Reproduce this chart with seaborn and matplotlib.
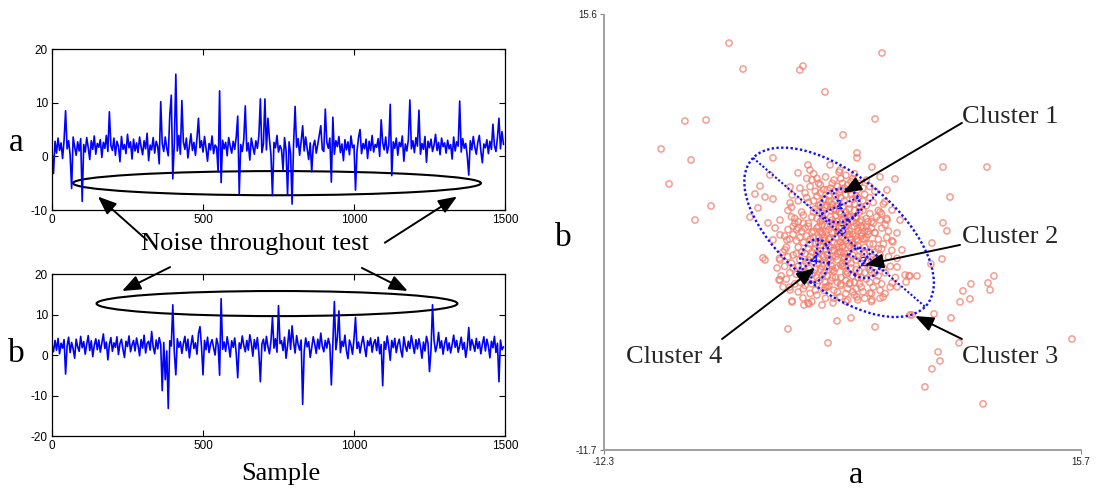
import numpy as np
import pandas as pd
import matplotlib
matplotlib.use("Agg")
import matplotlib.pyplot as plt
from matplotlib.patches import Ellipse
import seaborn as sns

# ---------------------------------------------------------------- data
sample = np.arange(0, 1500, 5)

sig_a = [
    1.2, -3.2, 2.8, 0.6, 3.4, 1.1, 2.5, -0.4, 3.0, 8.5, 1.4, 2.9, 0.3, -6.0, 3.6, 1.8, 0.2, 2.7, 1.0, 3.3,
    -8.4, 2.2, 0.8, 3.5, 1.6, -0.6, 2.9, 1.3, 3.8, 0.4, 2.4, 1.7, 3.1, -0.2, 2.6, 1.5, 3.9, 0.9, 8.3, 2.0,
    1.1, 3.4, 0.2, 2.8, 1.9, -1.0, 3.7, 1.3, 2.2, 0.5, 4.1, 1.6, 2.7, -0.5, 3.2, 1.0, 2.5, 0.7, 3.6, 1.8,
    0.3, 2.9, 1.4, 4.3, -0.8, 2.1, 1.2, 3.5, 0.6, 2.8, 1.9, -1.4, 10.2, 2.4, 0.9, 3.6, 1.5, 0.1, 7.7, 11.4,
    -4.2, 2.3, 15.3, 1.0, 3.9, 0.4, 10.4, 2.7, 1.3, 3.4, -0.3, 2.0, 4.2, 1.1, 2.6, 0.2, 3.3, 7.1, 1.6, 2.9,
    0.8, 3.7, 1.5, -0.9, 2.4, 1.2, 3.8, 0.5, 2.1, 1.7, -2.9, 12.2, -4.9, 3.0, 1.4, 2.6, 0.1, 3.5, 1.9, 0.6,
    2.8, 1.3, 3.6, 7.5, -7.0, 2.2, 0.9, 3.1, 9.4, 1.0, 2.5, -0.7, 3.4, 1.8, 0.4, 2.9, 1.5, 3.8, 10.7, 0.7,
    2.3, 10.7, 1.2, 7.1, 3.2, 0.3, -7.3, 2.6, 1.6, 3.9, 0.8, 2.0, 1.3, -2.5, 3.5, 1.1, -7.2, 2.7, 0.5, -8.9,
    2.4, 9.3, 1.7, 3.3, 0.2, 2.8, 5.7, 1.0, 3.6, 1.4, -0.6, 2.5, -2.9, 1.9, 3.0, 0.6, 2.2, 4.0, 5.7, 1.3,
    0.9, 8.8, 2.6, 1.5, 3.4, -4.8, 7.3, 0.4, 2.9, 1.8, 3.7, 0.7, 2.3, -0.8, 3.1, 1.2, 2.7, 0.3, 3.8, 1.6,
    2.1, -6.3, 1.0, 3.5, 5.0, 0.5, 2.4, 1.4, 3.2, -0.4, 2.8, 1.1, 3.9, 0.8, 2.2, 1.7, 3.3, 0.0, 6.8, 2.5,
    1.2, 3.6, 0.6, 2.0, 9.7, -3.6, 2.7, 1.5, 3.4, 0.2, 2.6, 1.8, 3.8, -0.9, 2.3, 1.0, 3.1, 10.5, 1.4, 2.9,
    0.7, 3.5, 1.9, 8.6, 0.4, 2.4, 1.3, 3.7, -1.1, 2.8, 1.6, 3.2, 0.9, 2.1, 4.1, 1.1, 2.6, 0.3, 3.4, 1.8,
    2.5, 0.6, 3.0, 1.4, 2.2, -0.5, 3.6, 1.0, 2.7, 1.9, 10.3, 0.8, 3.3, 1.5, 2.4, 0.1, -3.5, 2.9, 1.2, 3.7,
    1.7, 0.4, 2.6, 3.9, 1.0, -1.2, 2.3, 1.6, 3.1, 0.5, 2.8, 1.3, 6.0, 2.0, 0.9, 3.5, 7.1, 1.4, 4.6, 2.2,
]

sig_b = [
    2.5, 0.8, 3.6, 1.2, 4.1, 0.3, 2.9, 1.7, 3.8, -4.7, 2.2, 4.4, 0.6, 3.1, 1.5, -0.8, 3.9, 2.0, 0.9, 4.6,
    1.8, 3.3, 0.2, 2.7, 4.8, 1.1, 3.5, -0.4, 2.4, 4.0, 1.3, 3.7, 0.7, 2.9, 5.2, 1.6, 3.2, -1.2, 2.6, 4.3,
    0.9, 3.0, 1.9, 4.5, 0.1, 2.8, 3.9, 1.4, -0.6, 3.4, 2.1, 4.7, 0.8, 2.5, 3.6, 1.0, 4.2, 2.3, -0.2, 3.8,
    1.7, 4.9, 0.5, 2.9, 3.4, 1.2, 5.8, 2.0, 0.3, 3.7, 1.5, 4.3, 2.6, -8.8, 3.1, -6.1, 1.0, -13.2, 3.5, 2.2,
    12.4, 0.7, -4.9, 4.0, 1.9, 3.3, 0.4, 2.8, 4.6, 1.1, 3.9, -0.7, 2.4, 4.8, 1.6, 3.0, 0.2, 5.3, 7.0, 2.1,
    -4.9, 3.6, 1.3, 4.4, 0.6, 2.7, 3.8, 1.8, 0.0, 4.1, 2.5, -5.0, 13.9, 1.4, 3.2, 0.9, 4.5, 2.2, -0.5, 3.5,
    1.9, 4.2, 0.4, -5.6, 3.0, 1.6, 4.7, 2.4, 0.8, 3.6, 1.2, 5.0, 2.9, -0.3, 3.8, 1.5, 4.3, 0.6, -6.6, 2.7,
    3.9, 1.0, 4.6, 2.1, 0.3, 3.4, 9.3, 1.7, 4.0, 0.7, 12.2, 2.8, 3.5, 1.1, 4.4, -0.8, 2.3, 6.2, 1.4, 7.2,
    3.1, 0.5, 4.8, 2.6, 1.2, 3.7, -12.2, 0.9, 4.2, 2.0, 3.3, -0.6, 1.8, 4.5, 2.7, 0.4, 3.9, 1.5, 5.4, 2.2,
    0.8, 3.6, 1.7, 4.1, 2.5, -7.4, 3.0, 13.2, 1.3, 4.3, 10.9, 0.6, 3.4, 2.1, 4.9, 1.0, -0.9, 3.7, 2.4, 0.2,
    4.0, 9.3, 1.6, 3.2, 0.5, 2.8, 4.6, 1.9, -0.4, 3.5, 2.3, 4.2, 0.7, 2.9, 3.8, 1.1, 4.4, 0.3, 2.6, -7.6,
    3.3, 1.4, 4.7, 2.0, -1.3, 3.6, 1.8, 4.1, 0.6, 2.7, 3.9, 1.2, -0.5, 4.5, 2.2, 0.9, 3.4, 1.6, 4.8, 2.5,
    0.4, 3.8, 1.5, 4.0, 2.1, -0.8, 3.2, 1.0, 4.6, 2.9, -4.1, 1.3, 12.4, 3.7, 0.8, 2.4, 5.6, 1.7, 3.5, 0.2,
    2.8, 4.3, 1.1, 3.0, 0.5, 2.6, 4.9, 1.9, 3.6, 0.7, 2.3, 4.4, 1.4, 3.1, -0.6, 2.0, 6.8, 1.2, 3.8, 2.5,
    0.9, 4.1, 1.6, 3.3, 0.3, 2.7, 4.5, 1.0, 3.9, 2.2, -0.7, 3.4, 1.8, 4.6, 0.6, 2.9, -6.6, 3.7, 1.3, 2.0,
]

# (a, b) feature pairs: isolated points, points in the broad cluster, dense core
far_pts = [
    (-4.96, 13.78), (4.02, 13.16), (-4.14, 12.16), (-0.62, 12.34), (-0.80, 12.09), (0.67, 10.72),
    (-7.55, 8.90), (-6.31, 8.96), (3.61, 9.03), (1.73, 8.03), (-8.95, 7.15), (-7.19, 6.46),
    (-8.48, 4.96), (-6.02, 3.58), (-6.96, 2.70), (7.60, 6.02), (10.18, 6.02), (8.01, 4.14),
    (7.60, 2.52), (7.83, 2.02), (6.95, 1.26), (6.89, -0.05), (7.54, 0.26), (5.60, -0.80),
    (6.07, -0.80), (5.43, -1.18), (10.59, -0.80), (9.24, -1.30), (10.24, -1.24), (8.77, -1.74),
    (10.36, -1.68), (8.60, -2.43), (9.18, -2.24), (7.07, -3.18), (8.07, -3.43), (5.78, -3.24),
    (8.54, -4.99), (15.17, -4.75), (7.31, -5.56), (7.42, -6.12), (6.95, -6.62), (6.54, -7.75),
    (9.95, -8.81), (-2.85, 0.20), (-2.03, -1.05), (-1.50, -4.12), (-1.26, -2.37), (-0.56, -2.62),
    (-0.27, -2.55), (0.85, -4.99), (1.38, -3.62), (2.20, -3.43), (3.61, -3.99),
]

ring_pts = [
    (-2.38, 6.59), (-3.14, 4.83), (-3.44, 4.33), (-3.73, 2.89), (-3.26, 3.46), (-2.85, 4.14),
    (-2.38, 4.02), (-2.56, 5.52), (-1.97, 2.70), (-2.26, 2.20), (-2.67, 2.52), (-1.97, 1.77),
    (-2.97, 0.33), (-2.38, 1.45), (-1.38, 3.77), (-0.91, 5.65), (-0.21, 5.83), (-0.33, 6.15),
    (-0.09, 5.21), (-1.38, 4.77), (-1.26, 4.27), (0.97, 6.15), (1.55, 5.83), (2.55, 6.90),
    (2.55, 6.59), (3.43, 6.02), (3.90, 5.40), (4.78, 5.27), (4.31, 4.58), (4.19, 3.83),
    (3.90, 3.20), (4.61, 3.33), (4.31, 2.70), (5.08, 2.70), (4.90, 1.89), (5.19, 0.83),
    (4.66, 1.33), (4.90, -0.24), (4.61, -1.24), (4.90, -1.49), (5.37, -0.74), (5.66, -0.80),
    (4.08, -2.12), (3.43, -2.30), (3.31, -1.87), (2.55, -2.12), (2.14, -1.24), (1.55, -2.12),
    (1.14, -2.49), (0.50, -2.62), (-0.33, -2.49), (-0.62, -2.18), (-1.38, -1.68), (-1.26, -2.43),
    (-1.79, -1.49), (-1.97, -1.05), (-2.14, -0.30), (-1.97, 0.20), (-1.68, 0.83), (-1.56, 1.45),
    (5.66, -3.24),
]

core_pts = [
    # upper group
    (1.4, 3.6), (0.9, 3.9), (1.9, 3.2), (0.5, 3.1), (2.3, 4.0), (1.2, 4.5), (1.7, 2.7), (0.2, 4.2), (2.7, 3.5), (1.0, 2.9),
    (1.6, 4.1), (0.7, 3.5), (2.1, 3.7), (1.3, 3.0), (0.4, 2.6), (2.5, 2.8), (1.8, 4.7), (0.1, 3.4), (3.0, 4.3), (1.1, 5.0),
    (-0.3, 3.8), (2.8, 2.3), (0.6, 4.6), (1.5, 2.2), (2.2, 5.1), (-0.1, 2.9), (3.3, 3.1), (0.8, 2.3), (1.9, 5.5), (0.3, 5.0),
    (2.6, 4.6), (-0.5, 4.4), (3.5, 3.8), (1.0, 3.3), (2.0, 2.4), (0.0, 3.9), (1.4, 4.8), (2.9, 3.9), (0.6, 2.8), (1.7, 3.5),
    (-0.7, 3.2), (3.2, 2.6), (1.2, 2.5), (2.4, 3.3), (0.9, 4.2), (1.6, 5.3), (-0.2, 4.8), (2.7, 5.0), (0.4, 3.7), (3.6, 4.5),
    (1.1, 1.9), (2.3, 1.8), (-0.6, 2.5), (0.7, 5.4), (3.1, 5.2), (1.9, 4.3), (0.2, 2.2), (2.5, 4.2), (1.3, 3.9), (-0.9, 3.9),
    (3.8, 3.3), (0.5, 1.9), (1.5, 5.7), (2.8, 1.7), (-0.4, 5.3), (2.1, 4.6), (0.8, 3.6), (1.8, 2.9), (3.4, 2.2), (-1.1, 2.8),
    (0.1, 4.5), (2.6, 2.0), (1.0, 4.7), (2.0, 3.0), (-0.8, 4.7), (3.9, 2.7), (1.4, 2.0), (0.3, 1.6), (2.4, 5.6), (1.2, 3.4),
    (-1.3, 3.5), (3.0, 1.5), (0.6, 4.0), (1.7, 1.6), (2.2, 4.3), (-0.1, 1.9), (3.3, 4.8), (0.9, 1.5), (1.5, 4.4), (2.7, 3.2),
    (-1.0, 2.1), (4.1, 3.7), (0.4, 4.4), (1.9, 2.0), (0.0, 5.6), (2.9, 4.7), (1.1, 3.7), (-0.3, 2.3), (3.6, 1.9), (1.6, 3.1),
    (1.0, 3.5), (1.8, 3.9), (1.3, 4.2), (0.6, 3.3), (2.1, 3.4), (1.5, 3.2), (0.8, 4.6), (2.4, 3.7), (1.1, 2.7), (1.9, 2.6),
    (0.3, 3.6), (2.6, 4.1), (1.6, 4.6), (0.7, 4.0), (2.2, 2.9), (1.3, 3.3), (0.4, 4.9), (2.9, 3.3), (1.7, 5.0), (0.0, 3.2),
    (2.0, 4.9), (1.2, 5.2), (3.1, 3.6), (0.5, 2.4), (2.5, 2.5), (-0.4, 4.1), (1.4, 2.6), (3.3, 4.1), (0.2, 5.3), (2.3, 5.3),
    # lower-left group
    (0.0, 0.1), (-0.5, 0.6), (0.4, -0.4), (-0.9, -0.2), (0.7, 0.9), (-0.2, 1.2), (0.3, -1.1), (-1.2, 0.5), (1.0, 0.2), (-0.6, -0.9),
    (0.2, 0.6), (-1.0, 1.4), (0.8, -0.8), (-0.3, -0.3), (1.2, 1.3), (-1.4, -0.6), (0.5, 1.8), (-0.7, 2.0), (0.1, -1.7), (1.3, -0.3),
    (-1.6, 1.0), (0.6, 0.0), (-0.4, 1.7), (0.9, -1.4), (-1.1, -1.3), (0.3, 2.3), (-0.8, 0.2), (1.5, 0.7), (-0.1, -0.7), (-1.5, 2.1),
    (0.4, 1.1), (-0.6, -1.6), (1.1, -0.9), (-1.3, 0.0), (0.7, 2.0), (-0.2, 0.4), (1.6, -0.1), (-0.9, 1.0), (0.2, -2.0), (-1.7, -0.2),
    (0.9, 1.5), (-0.5, -0.5), (1.4, -1.2), (-1.2, 1.8), (0.0, 1.6), (0.5, -0.2), (-0.8, -1.2), (1.8, 0.4), (-0.3, 2.5), (0.6, -1.7),
    (-1.8, 0.7), (1.0, 2.4), (-0.1, -1.3), (-1.0, -0.7), (0.8, 0.5), (-0.6, 1.3), (1.7, 1.1), (0.3, 0.3), (-1.4, 1.5), (0.1, -0.4),
    (-0.4, 0.0), (1.2, -1.7), (-1.1, 2.5), (0.5, 2.7), (-0.2, -1.9), (1.9, -0.7), (-1.6, -1.0), (0.4, 1.4), (-0.7, 0.7), (0.9, -0.4),
    (-0.9, -1.8), (1.5, 1.9), (-0.3, 0.9), (0.2, -0.9), (-1.3, 2.9), (1.1, 0.8), (-0.5, 2.2), (0.7, -1.2), (-2.0, 0.3), (0.0, 2.0),
    (-0.3, 0.2), (0.3, 0.0), (0.1, 0.9), (-0.6, -0.2), (0.6, 0.4), (-0.4, -1.0), (0.5, -0.8), (-1.0, 0.6), (0.9, 1.0), (-0.2, 1.5),
    (0.2, -1.3), (-0.8, 1.6), (1.1, -0.2), (-1.2, -0.3), (0.6, 1.6), (-0.5, -1.4), (0.0, -0.6), (-0.9, 2.2), (0.8, -1.5), (-1.5, 0.4),
    (0.4, 2.0), (-0.1, 0.7), (1.3, 0.4), (-0.7, -0.6), (0.3, 1.3),
    # lower-right group
    (2.8, 0.0), (2.3, 0.5), (3.3, -0.4), (2.0, -0.6), (3.6, 0.7), (2.6, 1.1), (3.1, -1.0), (1.8, 0.3), (3.9, -0.1), (2.4, -1.2),
    (3.0, 0.6), (1.9, 1.4), (3.5, -1.5), (2.7, -0.5), (4.1, 1.2), (1.6, -0.9), (3.2, 1.8), (2.1, 2.0), (2.9, -1.8), (4.2, -0.6),
    (1.7, 1.0), (3.4, 0.2), (2.5, 1.7), (3.7, -1.1), (2.0, -1.6), (3.1, 2.3), (2.2, 0.0), (4.4, 0.4), (2.7, -1.3), (1.5, 2.2),
    (3.3, 1.2), (2.4, -2.0), (3.9, -1.7), (1.8, -0.2), (3.6, 1.9), (2.6, 0.4), (4.5, -0.2), (2.1, 1.1), (3.0, -2.2), (1.4, 0.6),
    (3.8, 0.9), (2.3, -0.8), (4.0, -1.3), (2.0, 2.5), (2.9, 1.5), (3.2, -0.2), (2.5, -1.6), (4.3, 1.6), (2.7, 2.6), (1.6, -1.4),
    (1.3, 1.6), (3.5, 2.5), (2.8, -0.9), (3.4, -1.9), (2.2, 1.5), (4.6, 0.8), (1.9, -1.9), (3.0, 1.0), (2.4, 2.3), (3.7, 0.3),
    (1.2, -0.5), (4.0, 2.2), (2.6, -2.3), (3.3, 0.7), (1.7, 2.7), (4.8, -0.9), (2.9, 0.3), (2.1, -1.3), (3.6, -0.6), (2.5, 2.9),
    (1.4, -1.8), (3.1, 2.8), (4.2, -1.9), (2.3, 1.3), (3.8, 1.5), (2.0, -2.3), (3.4, -2.4), (1.5, 1.0), (4.4, 2.0), (2.8, 1.9),
    (2.5, 0.2), (3.2, 0.1), (2.7, 0.8), (3.0, -0.6), (2.2, -0.3), (3.6, 0.2), (2.4, 1.0), (3.3, -1.2), (2.0, 0.6), (3.9, 0.5),
    (2.8, -1.5), (2.6, 1.4), (3.5, 1.2), (1.9, -1.1), (4.1, -0.3), (2.3, -1.8), (3.1, 1.6), (3.8, -0.8), (2.1, 1.8), (3.4, -0.6),
    (2.9, 2.2), (1.7, 0.0), (4.0, 0.9), (2.6, -0.9), (3.2, 2.0),
    # between the groups
    (1.5, 1.9), (0.8, 1.2), (2.2, 1.0), (1.2, 0.8), (1.8, 0.6), (0.5, 0.5), (2.5, 1.5), (1.0, 1.0), (1.6, 1.3), (2.0, 1.8),
    (1.3, 2.3), (-0.6, 3.0), (0.9, 0.3), (2.3, 2.6), (1.7, -0.2), (1.1, -0.4), (3.7, 2.9), (4.0, 3.1), (-1.5, 3.3), (-1.2, 2.3),
    (1.4, 0.2), (2.1, 2.9), (0.6, -0.6), (1.9, -0.5), (4.3, 2.8), (-1.4, -1.5), (4.6, 1.4), (0.2, 2.8), (2.8, 2.7), (1.0, -1.1),
    (-1.7, 1.7), (4.9, 0.3), (1.6, -1.3), (1.2, -2.2), (0.7, -2.2), (4.5, -1.5), (-1.9, -0.8), (3.9, -2.2), (1.9, -2.4), (-0.1, -2.4),
    (1.0, 1.6), (1.8, 1.5), (0.6, 1.4), (2.3, 1.2), (1.4, 1.2), (0.4, 0.8), (2.0, 0.2), (1.1, 0.4), (1.6, 0.7), (2.6, 2.2),
    (0.9, 2.1), (1.9, 2.3), (3.0, 2.0), (0.1, 1.2), (1.3, -0.9), (2.5, -0.4), (3.4, 2.6), (-0.9, 2.6), (4.2, 2.4), (0.7, -1.5),
]

# fitted clusters: label, centre (a, b), full axis lengths, orientation in degrees
cluster_ids = ["1", "2", "3", "4"]
cluster_a = [1.55, 2.90, 1.50, 0.06]
cluster_b = [3.61, 0.01, 1.93, 0.14]
cluster_w = [2.35, 2.05, 13.74, 2.75]
cluster_h = [2.05, 1.80, 6.90, 1.70]
cluster_ang = [25.0, -35.0, -42.7, 80.0]
label_pos_3 = (1.67, 2.02)

# ---------------------------------------------------------------- style
sns.set_theme(style="white")
plt.rcParams["font.family"] = ["Liberation Sans", "DejaVu Sans"]
plt.rcParams["axes.unicode_minus"] = False
SERIF = ["Liberation Serif", "DejaVu Serif"]

W, H = 1096, 490
fig = plt.figure(figsize=(W / 100, H / 100), dpi=100)
fig.patch.set_facecolor("white")


def px_box(left, top, right, bottom):
    return [left / W, 1 - bottom / H, (right - left) / W, (bottom - top) / H]


def fig_text(x, y, s, size, **kw):
    fig.text(x / W, 1 - y / H, s, fontsize=size, family=SERIF, color="black",
             ha=kw.pop("ha", "center"), va=kw.pop("va", "center"), **kw)


arrow_kw = dict(arrowstyle="-|>,head_length=0.7,head_width=0.28", color="black",
                lw=1.4, mutation_scale=16, shrinkA=0, shrinkB=0)

# ---------------------------------------------------------------- time series
ax_a = fig.add_axes(px_box(52, 49, 505, 210))
ax_b = fig.add_axes(px_box(52, 274, 505, 436))

for ax, sig, ylim, yticks in [(ax_a, sig_a, (-10, 20), [-10, 0, 10, 20]),
                              (ax_b, sig_b, (-20, 20), [-20, -10, 0, 10, 20])]:
    sns.lineplot(x=sample, y=sig, ax=ax, color="#0000ff", lw=1.2)
    ax.set_xlim(0, 1500)
    ax.set_ylim(*ylim)
    ax.set_xticks([0, 500, 1000, 1500])
    ax.set_yticks(yticks)
    ax.set_xlabel("")
    ax.set_ylabel("")
    ax.tick_params(direction="in", top=True, right=True, bottom=True, left=True,
                   length=4, width=0.8, labelsize=8.5, pad=3, colors="black")
    for sp in ax.spines.values():
        sp.set_color("black")
        sp.set_linewidth(0.9)

ax_a.add_patch(Ellipse((745, -5.0), 1351, 4.5, fill=False, ec="black", lw=1.5))
ax_b.add_patch(Ellipse((745, 12.7), 1195, 6.2, fill=False, ec="black", lw=1.5))

ax_a.annotate("", xy=(152, -7.5), xytext=(314, -15.6), arrowprops=arrow_kw, annotation_clip=False)
ax_a.annotate("", xy=(1341, -7.5), xytext=(1102, -16.1), arrowprops=arrow_kw, annotation_clip=False)
ax_b.annotate("", xy=(232, 15.8), xytext=(391, 21.7), arrowprops=arrow_kw, annotation_clip=False)
ax_b.annotate("", xy=(1178, 15.8), xytext=(1026, 21.5), arrowprops=arrow_kw, annotation_clip=False)

fig_text(255, 244, "Noise throughout test", 19)
fig_text(281, 474, "Sample", 19)
fig_text(16, 143, "a", 24)
fig_text(16, 354, "b", 24)

# ---------------------------------------------------------------- scatter
pts = far_pts + ring_pts + core_pts
df = pd.DataFrame(pts, columns=["a", "b"])

ax_s = fig.add_axes(px_box(604, 14, 1081, 450))
sns.scatterplot(data=df, x="a", y="b", ax=ax_s, marker="o", s=20,
                facecolor="none", edgecolor="#f47c6a", linewidth=1.1,
                alpha=0.75, legend=False)
ax_s.set_xlim(-12.3, 15.7)
ax_s.set_ylim(-11.7, 15.6)
ax_s.set_xticks([-12.3, 15.7])
ax_s.set_xticklabels(["-12.3", "15.7"])
ax_s.set_yticks([-11.7, 15.6])
ax_s.set_yticklabels(["-11.7", "15.6"])
ax_s.set_xlabel("")
ax_s.set_ylabel("")
ax_s.tick_params(bottom=True, left=True, length=3, width=0.8, color="#888888",
                 labelsize=7, labelcolor="#222222", pad=2)
for side in ["top", "right"]:
    ax_s.spines[side].set_visible(False)
for side in ["left", "bottom"]:
    ax_s.spines[side].set_color("#999999")
    ax_s.spines[side].set_linewidth(1.3)
    ax_s.spines[side].set_linestyle((0, (1, 1)))

dot = (0, (1, 1))
for cid, ca, cb, cw, ch, cang in zip(cluster_ids, cluster_a, cluster_b,
                                     cluster_w, cluster_h, cluster_ang):
    ax_s.add_patch(Ellipse((ca, cb), cw, ch, angle=cang, fill=False,
                           ec="#1010ff", lw=1.7, ls=dot))
    t = np.deg2rad(cang)
    ux, uy = np.cos(t), np.sin(t)
    vx, vy = -np.sin(t), np.cos(t)
    ax_s.plot([ca - ux * cw / 2, ca + ux * cw / 2], [cb - uy * cw / 2, cb + uy * cw / 2],
              color="#1010ff", lw=1.5, ls=dot)
    ax_s.plot([ca - vx * ch / 2, ca + vx * ch / 2], [cb - vy * ch / 2, cb + vy * ch / 2],
              color="#1010ff", lw=1.5, ls=dot)
    lx, ly = label_pos_3 if cid == "3" else (ca, cb)
    ax_s.text(lx, ly, cid, color="#1010ff", fontsize=9, ha="center", va="center",
              family="DejaVu Sans")

ax_s.annotate("", xy=(1.73, 4.39), xytext=(8.71, 8.78), arrowprops=arrow_kw)
ax_s.annotate("", xy=(3.02, -0.11), xytext=(8.60, 1.14), arrowprops=arrow_kw)
ax_s.annotate("", xy=(5.96, -3.31), xytext=(8.71, -4.75), arrowprops=arrow_kw)
ax_s.annotate("", xy=(0.09, -0.30), xytext=(-5.37, -4.75), arrowprops=arrow_kw)

ax_s.text(8.71, 9.15, "Cluster 1", fontsize=19, family=SERIF, ha="left", va="center")
ax_s.text(8.71, 1.64, "Cluster 2", fontsize=19, family=SERIF, ha="left", va="center")
ax_s.text(8.71, -5.87, "Cluster 3", fontsize=19, family=SERIF, ha="left", va="center")
ax_s.text(-5.37, -5.87, "Cluster 4", fontsize=19, family=SERIF, ha="right", va="center")

fig_text(856, 483, "a", 23, va="baseline")
fig_text(563, 238, "b", 24)

fig.savefig("out.png", dpi=100, facecolor="white")
